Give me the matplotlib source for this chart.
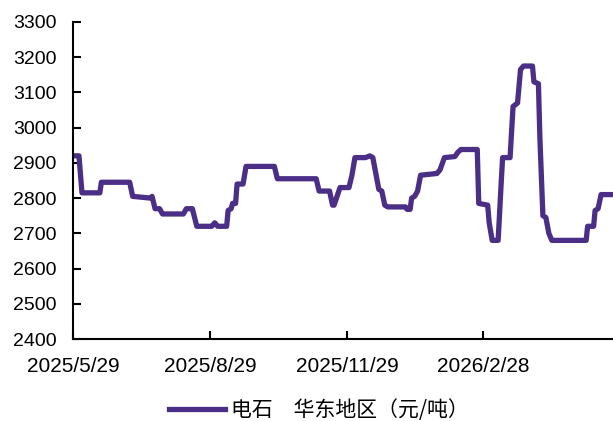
import matplotlib
matplotlib.use("Agg")
import matplotlib.pyplot as plt
import pandas as pd

start = pd.Timestamp("2025-05-29")
# days after 2025/5/29 and price (元/吨)
days = [0, 4, 6, 18, 19, 38, 40, 52, 53, 55, 58, 60, 74, 76, 80, 83, 93, 95, 97,
        103, 104, 106, 107, 109, 110, 114, 116, 135, 137, 163, 165, 172, 174, 175,
        177, 179, 185, 187, 189, 196, 199, 201, 203, 205, 207, 209, 211, 223, 224,
        226, 227, 229, 231, 233, 244, 246, 249, 256, 258, 260, 271, 272, 278, 279,
        281, 285, 287, 288, 293, 295, 298, 300, 302, 308, 309, 312, 313, 315, 317,
        319, 321, 344, 345, 349, 350, 352, 354, 362]
price = [2920, 2920, 2815, 2815, 2845, 2845, 2805, 2800, 2805, 2770, 2770, 2755,
         2755, 2770, 2770, 2720, 2720, 2730, 2720, 2720, 2765, 2770, 2785, 2785,
         2840, 2840, 2890, 2890, 2855, 2855, 2820, 2820, 2780, 2780, 2805, 2830,
         2830, 2865, 2915, 2915, 2920, 2915, 2870, 2825, 2820, 2780, 2775, 2775,
         2768, 2768, 2800, 2805, 2820, 2865, 2870, 2880, 2915, 2918, 2930, 2938,
         2938, 2785, 2780, 2730, 2680, 2680, 2840, 2915, 2915, 3060, 3070, 3165,
         3175, 3175, 3130, 3125, 2970, 2750, 2745, 2700, 2680, 2680, 2720, 2720,
         2765, 2770, 2810, 2810]
dates = [start + pd.Timedelta(days=d) for d in days]

tick_dates = ["2025-05-29", "2025-08-29", "2025-11-29", "2026-02-28"]
tick_labels = ["2025/5/29", "2025/8/29", "2025/11/29", "2026/2/28"]
yticks = list(range(2400, 3301, 100))

fig = plt.figure(figsize=(6.13, 4.21), dpi=100)
ax = fig.add_axes([73 / 613, 82 / 421, 540 / 613, 317 / 421])

ax.plot(dates, price, color="#4b2f86", lw=3.8, solid_joinstyle="round",
        label="电石　华东地区（元/吨）")

ax.set_ylim(2400, 3300)
ax.set_yticks(yticks)
ax.set_xlim(start, start + pd.Timedelta(days=362))
ax.set_xticks([pd.Timestamp(t) for t in tick_dates])
ax.set_xticklabels(tick_labels)

for s in ["top", "right"]:
    ax.spines[s].set_visible(False)
for s in ["left", "bottom"]:
    ax.spines[s].set_linewidth(1.5)
ax.tick_params(axis="both", direction="in", length=6, width=1.5, pad=12)
ax.tick_params(axis="y", labelsize=14)
ax.tick_params(axis="x", labelsize=15, pad=13)
for lab in ax.get_xticklabels() + ax.get_yticklabels():
    lab.set_family("Liberation Sans")

leg = fig.legend(loc="center", bbox_to_anchor=(319 / 613, 1 - 410 / 421),
                 frameon=False, handlelength=2.7, handletextpad=0.3,
                 prop={"family": ["Noto Sans CJK SC", "DejaVu Sans"],
                       "size": 15})

fig.savefig("out.png", dpi=100)
